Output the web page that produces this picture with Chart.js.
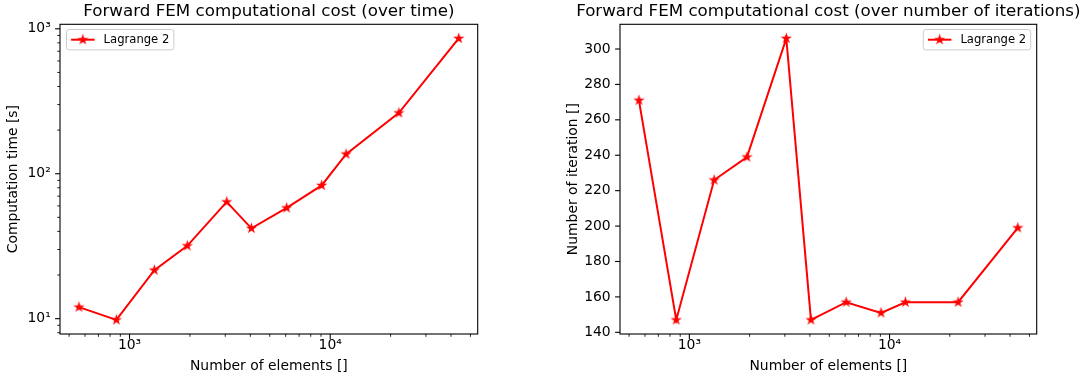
<!DOCTYPE html>
<html>
<head>
<meta charset="utf-8">
<script src="https://cdn.jsdelivr.net/npm/chart.js@4.4.1/dist/chart.umd.min.js"></script>
<style>
  html, body { margin: 0; padding: 0; background: #ffffff; }
  #wrap { position: relative; width: 1081px; height: 382px; overflow: hidden; }
  canvas { position: absolute; top: 0; }
</style>
</head>
<body>
<div id="wrap">
  <canvas id="timeChart" width="540" height="382" style="left:0px"></canvas>
  <canvas id="iterChart" width="541" height="382" style="left:540px"></canvas>
</div>
<script>
// Mesh sizes and measured costs for the Lagrange 2 forward solve
const elements     = [560, 860, 1330, 1940, 3050, 4050, 6070, 9070, 12000, 22000, 43700];
const computeTime  = [12.0, 9.8, 21.6, 31.8, 63.9, 42.0, 58.1, 83.1, 136.6, 262.9, 859];
const iterations   = [271, 147, 226, 239, 306, 147, 157, 151, 157, 157, 199];
const seriesLabel  = 'Lagrange 2';

// Tick positions (log axes carry minor ticks between the decades)
const elementTicks = [500, 600, 700, 800, 900, 1000, 2000, 3000, 4000, 5000, 6000, 7000, 8000, 9000,
                      10000, 20000, 30000, 40000, 50000];
const timeTicks    = [8, 9, 10, 20, 30, 40, 50, 60, 70, 80, 90, 100, 200, 300, 400, 500, 600, 700, 800, 900, 1000];
const iterTicks    = [140, 160, 180, 200, 220, 240, 260, 280, 300];

const titles = {
  time: 'Forward FEM computational cost (over time)',
  iter: 'Forward FEM computational cost (over number of iterations)'
};
const xTitle = 'Number of elements []';
const yTitles = { time: 'Computation time [s]', iter: 'Number of iteration []' };

const FONT = "'DejaVu Sans', 'Liberation Sans', sans-serif";
const RED = '#ff0000';
Chart.defaults.color = '#000000';
Chart.defaults.font.family = FONT;

// 5 % padding around the data range, like an auto-scaled axis
function logLimits(values) {
  const lo = Math.log10(Math.min(...values)), hi = Math.log10(Math.max(...values));
  const m = (hi - lo) * 0.05;
  return { min: Math.pow(10, lo - m), max: Math.pow(10, hi + m) };
}
function linLimits(values) {
  const lo = Math.min(...values), hi = Math.max(...values);
  const m = (hi - lo) * 0.05;
  return { min: lo - m, max: hi + m };
}

const SUP = { '0': '\u2070', '1': '\u00b9', '2': '\u00b2', '3': '\u00b3', '4': '\u2074',
              '5': '\u2075', '6': '\u2076', '7': '\u2077', '8': '\u2078', '9': '\u2079' };
function isDecade(v) {
  const e = Math.log10(v);
  return Math.abs(e - Math.round(e)) < 1e-9;
}
function decadeLabel(v) {
  if (!isDecade(v)) return '';
  return '10' + String(Math.round(Math.log10(v))).split('').map(d => SUP[d]).join('');
}

// Filled five-pointed star used as the point marker
function makeStar(color, outerR, edge) {
  const size = Math.ceil(2 * outerR + edge + 3);
  const c = document.createElement('canvas');
  c.width = c.height = size;
  const g = c.getContext('2d');
  const cx = size / 2, cy = size / 2, innerR = outerR * 0.381966;
  g.beginPath();
  for (let i = 0; i < 10; i++) {
    const r = i % 2 === 0 ? outerR : innerR;
    const a = -Math.PI / 2 + i * Math.PI / 5;
    const px = cx + r * Math.cos(a), py = cy + r * Math.sin(a);
    if (i === 0) g.moveTo(px, py); else g.lineTo(px, py);
  }
  g.closePath();
  g.fillStyle = color;
  g.fill();
  g.lineWidth = edge;
  g.strokeStyle = color;
  g.lineJoin = 'miter';
  g.stroke();
  return c;
}
const starMarker = makeStar(RED, 4.0, 1.2);

// Title centred over the axes, box frame, outward tick marks and the in-axes legend
const axesDecor = {
  id: 'axesDecor',
  afterDraw(chart, args, opts) {
    const ctx = chart.ctx;
    const a = chart.chartArea;
    ctx.save();

    // title
    ctx.font = '16.7px ' + FONT;
    ctx.fillStyle = '#000000';
    ctx.textAlign = 'center';
    ctx.textBaseline = 'middle';
    ctx.fillText(opts.title, (a.left + a.right) / 2, 12);

    // tick marks
    ctx.strokeStyle = '#000000';
    const xs = chart.scales.x, ys = chart.scales.y;
    xs.ticks.forEach(t => {
      const major = xs.type !== 'logarithmic' || isDecade(t.value);
      const px = xs.getPixelForValue(t.value);
      if (px < a.left - 0.5 || px > a.right + 0.5) return;
      ctx.lineWidth = major ? 1.1 : 0.85;
      ctx.beginPath();
      ctx.moveTo(px, a.bottom);
      ctx.lineTo(px, a.bottom + (major ? 4.9 : 2.8));
      ctx.stroke();
    });
    ys.ticks.forEach(t => {
      const major = ys.type !== 'logarithmic' || isDecade(t.value);
      const py = ys.getPixelForValue(t.value);
      if (py < a.top - 0.5 || py > a.bottom + 0.5) return;
      ctx.lineWidth = major ? 1.1 : 0.85;
      ctx.beginPath();
      ctx.moveTo(a.left, py);
      ctx.lineTo(a.left - (major ? 4.9 : 2.8), py);
      ctx.stroke();
    });

    // frame
    ctx.lineWidth = 1.1;
    ctx.strokeStyle = '#000000';
    ctx.strokeRect(a.left, a.top, a.right - a.left, a.bottom - a.top);

    // legend
    const ds = chart.data.datasets[0];
    ctx.font = '11.6px ' + FONT;
    const textW = ctx.measureText(ds.label).width;
    const pad = 4.6, handle = 23.5, gap = 9.0;
    const w = pad + handle + gap + textW + pad;
    const h = 20.4;
    const bx = opts.corner === 'right' ? a.right - 6 - w : a.left + 6.5;
    const by = a.top + 5.2;
    ctx.beginPath();
    ctx.roundRect(bx, by, w, h, 2.5);
    ctx.fillStyle = 'rgba(255,255,255,0.8)';
    ctx.fill();
    ctx.lineWidth = 1;
    ctx.strokeStyle = '#cccccc';
    ctx.stroke();
    const cy = by + h / 2;
    ctx.beginPath();
    ctx.moveTo(bx + pad, cy);
    ctx.lineTo(bx + pad + handle, cy);
    ctx.lineWidth = ds.borderWidth;
    ctx.strokeStyle = ds.borderColor;
    ctx.stroke();
    ctx.drawImage(starMarker, bx + pad + handle / 2 - starMarker.width / 2, cy - starMarker.height / 2);
    ctx.fillStyle = '#000000';
    ctx.textBaseline = 'middle';
    ctx.textAlign = 'left';
    ctx.fillText(ds.label, bx + pad + handle + gap, cy + 0.5);

    ctx.restore();
  }
};

function buildChart(canvasId, yValues, yType, yTickValues, cfg) {
  const xLim = logLimits(elements);
  const yLim = yType === 'logarithmic' ? logLimits(yValues) : linLimits(yValues);
  const tickFont = { family: FONT, size: 13.9 };
  return new Chart(document.getElementById(canvasId), {
    type: 'line',
    data: {
      datasets: [{
        label: seriesLabel,
        data: elements.map((x, i) => ({ x: x, y: yValues[i] })),
        borderColor: RED,
        backgroundColor: RED,
        borderWidth: 2.0,
        tension: 0,
        fill: false,
        pointStyle: starMarker,
        pointRadius: 5,
        pointHoverRadius: 5
      }]
    },
    options: {
      responsive: false,
      animation: false,
      events: [],
      layout: { padding: { left: 0, right: cfg.padRight, top: 24.3, bottom: 0 }, autoPadding: false },
      plugins: {
        legend: { display: false },
        tooltip: { enabled: false },
        title: { display: false },
        axesDecor: { corner: cfg.legendCorner, title: cfg.title }
      },
      scales: {
        x: {
          type: 'logarithmic',
          bounds: 'data',
          min: xLim.min,
          max: xLim.max,
          afterBuildTicks: s => { s.ticks = elementTicks.map(v => ({ value: v })); },
          afterFit: s => { s.height = 48; },
          grid: { display: true, drawOnChartArea: false, drawTicks: true, tickLength: 2, tickColor: 'rgba(0,0,0,0)' },
          border: { display: false },
          ticks: {
            autoSkip: false, maxRotation: 0, minRotation: 0, padding: 1,
            font: tickFont, color: '#000000',
            callback: v => decadeLabel(v)
          },
          title: {
            display: true, text: xTitle, color: '#000000',
            font: { family: FONT, size: 13.9, lineHeight: 1.2 },
            padding: { top: 0, bottom: 7.2 }
          }
        },
        y: {
          type: yType,
          bounds: 'data',
          min: yLim.min,
          max: yLim.max,
          afterBuildTicks: s => { s.ticks = yTickValues.map(v => ({ value: v })); },
          afterFit: s => { s.width = cfg.yWidth; },
          grid: { display: true, drawOnChartArea: false, drawTicks: true, tickLength: 4.9, tickColor: 'rgba(0,0,0,0)' },
          border: { display: false },
          ticks: {
            autoSkip: false, padding: 4.4,
            font: tickFont, color: '#000000',
            callback: v => (yType === 'logarithmic' ? decadeLabel(v) : String(v))
          },
          title: {
            display: true, text: cfg.yTitle, color: '#000000',
            font: { family: FONT, size: 13.9, lineHeight: 1.2 },
            padding: { top: cfg.yTitlePad, bottom: 0 }
          }
        }
      }
    },
    plugins: [axesDecor]
  });
}

buildChart('timeChart', computeTime, 'logarithmic', timeTicks, {
  title: titles.time, yTitle: yTitles.time, yWidth: 60, padRight: 62.3,
  yTitlePad: 5.5, legendCorner: 'left'
});
buildChart('iterChart', iterations, 'linear', iterTicks, {
  title: titles.iter, yTitle: yTitles.iter, yWidth: 80, padRight: 44.3,
  yTitlePad: 25.2, legendCorner: 'right'
});
</script>
</body>
</html>
